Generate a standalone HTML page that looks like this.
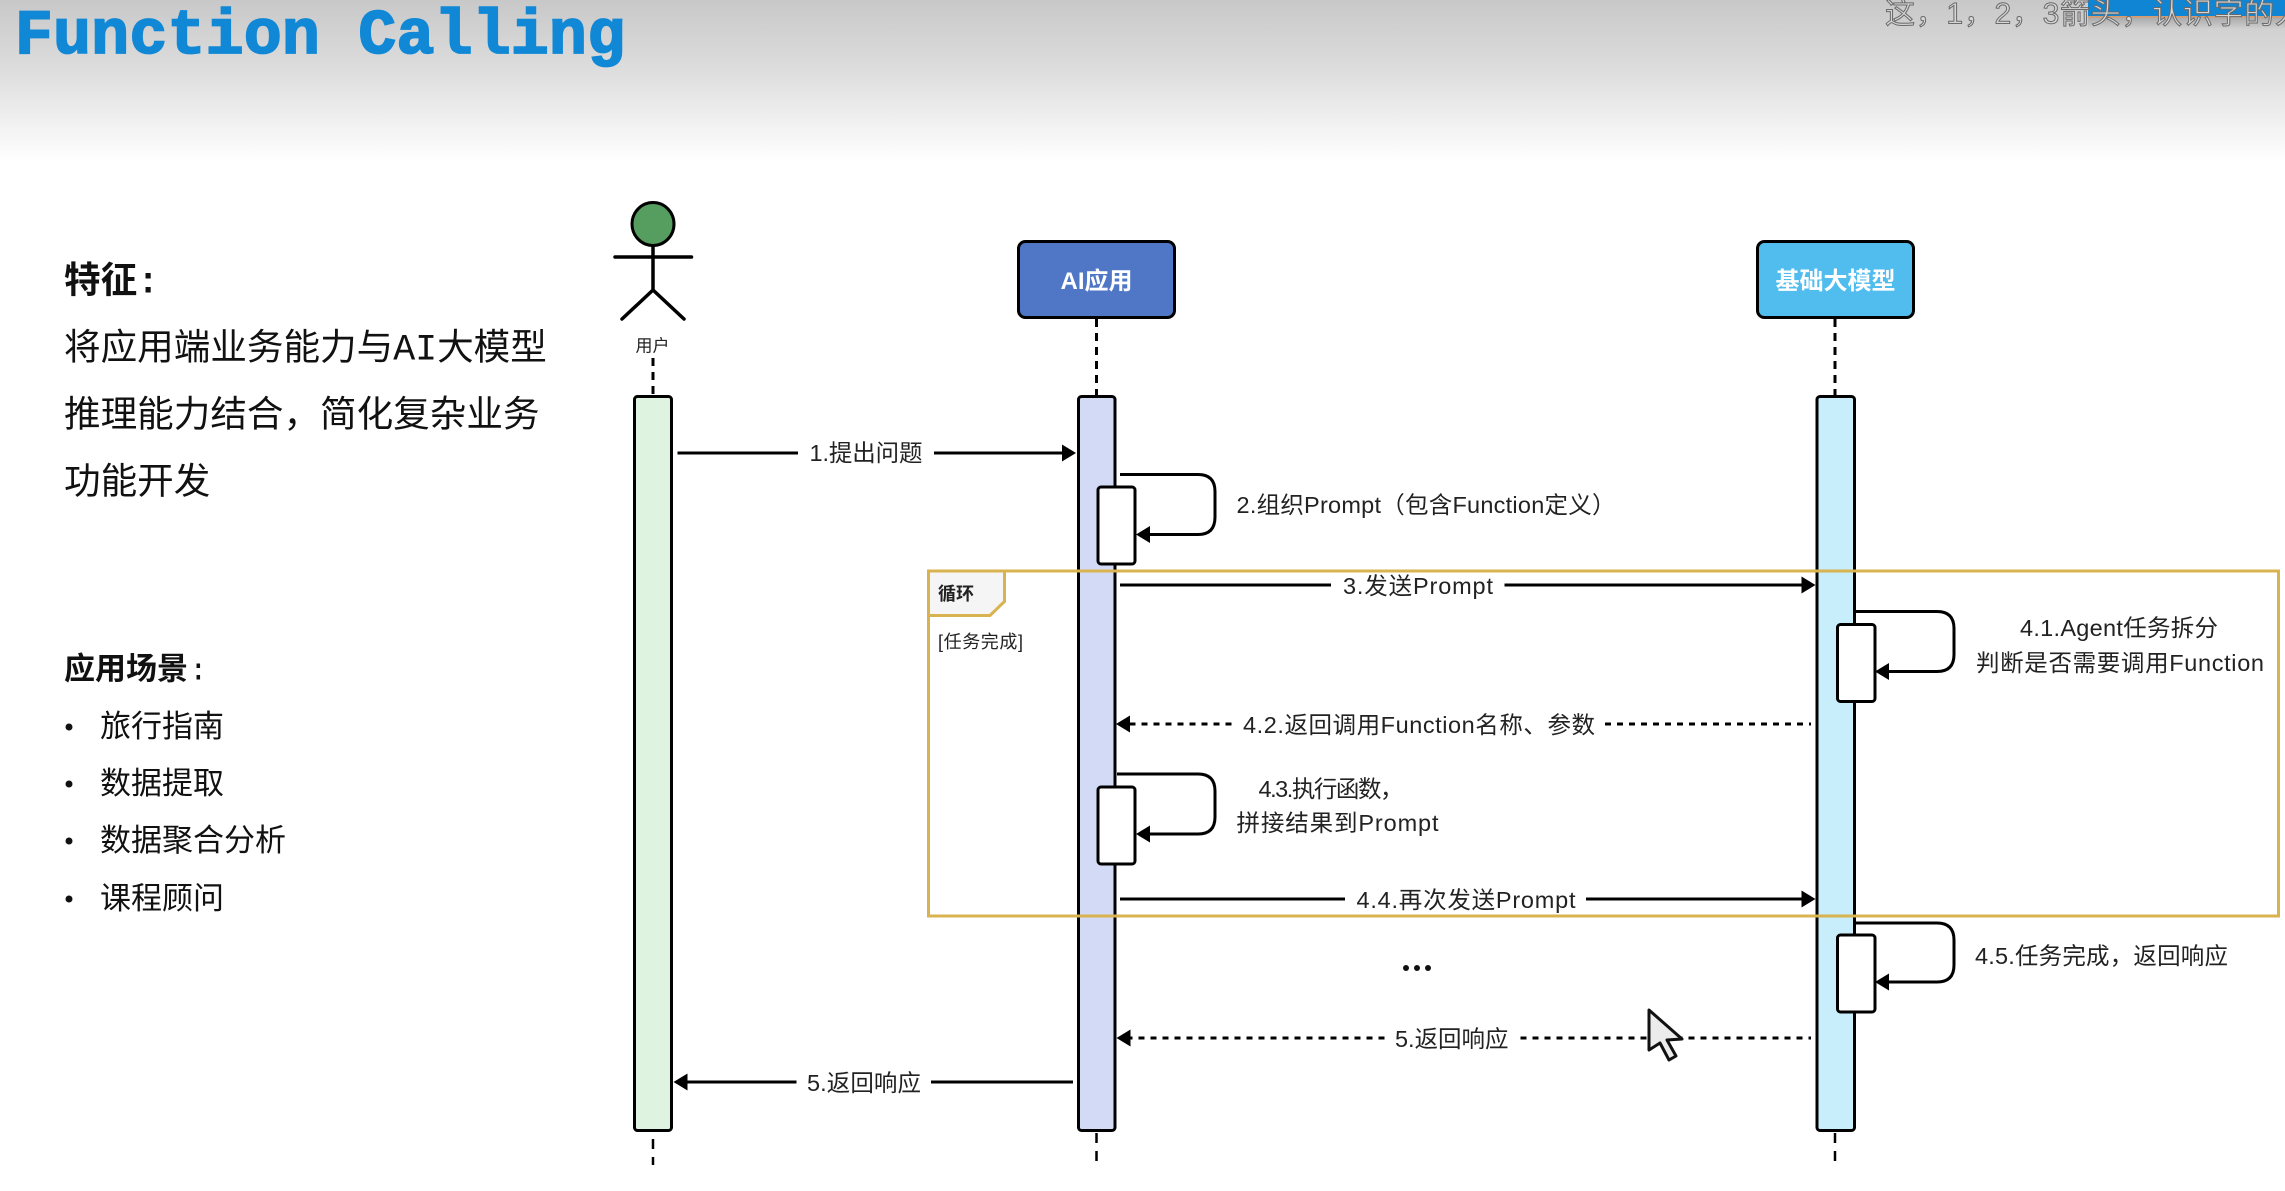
<!DOCTYPE html>
<html><head><meta charset="utf-8">
<style>
html,body{margin:0;padding:0;background:#fff;width:2285px;height:1191px;overflow:hidden}
svg{display:block}
text{font-family:"Liberation Sans","Noto Sans CJK SC",sans-serif;fill:#222;dominant-baseline:central}
.m{font-size:23.500px}
.h{font-family:"Liberation Mono","Noto Sans CJK SC",monospace;font-size:36.600px;fill:#111}
.b{font-family:"Liberation Mono","Noto Sans CJK SC",monospace;font-size:31px;fill:#111}
.l{fill:none;stroke:#000;stroke-width:3}
.d{fill:none;stroke:#000;stroke-width:3;stroke-dasharray:6 6}
.ll{fill:none;stroke:#000;stroke-width:3;stroke-dasharray:8 6}
.bar{stroke:#000;stroke-width:3}
</style></head><body>
<svg width="2285" height="1191" viewBox="0 0 2285 1191" xmlns="http://www.w3.org/2000/svg">
<defs>
<linearGradient id="g" x1="0" y1="0" x2="0" y2="1"><stop offset="0" stop-color="#c8c8c8"/><stop offset="0.45" stop-color="#dedede"/><stop offset="1" stop-color="#ffffff"/></linearGradient>
<linearGradient id="s" x1="0" y1="0" x2="0" y2="1"><stop offset="0" stop-color="#000" stop-opacity=".18"/><stop offset="1" stop-color="#000" stop-opacity="0"/></linearGradient>
</defs>
<rect width="2285" height="1191" fill="#fff"/>
<rect width="2285" height="162" fill="url(#g)"/>
<!-- subtitle overlay -->
<rect x="2088" y="17" width="197" height="12" fill="url(#s)"/>
<rect x="2088" y="0" width="197" height="16" fill="#0f85d3"/>
<rect x="2088" y="16" width="197" height="1.500" fill="#d99a6c"/>
<text x="1885" y="14" style="font-family:'Liberation Sans','Noto Sans CJK SC',sans-serif;font-size:30px;fill:#d6d6d6;stroke:#6a6a6a;stroke-width:1" textLength="420" lengthAdjust="spacing">这，1，2，3箭头，认识字的人</text>
<!-- title -->
<text x="15" y="53" style="font-family:'Liberation Mono',monospace;font-size:63px;font-weight:bold;fill:#1088d6;stroke:#1088d6;stroke-width:1.800;dominant-baseline:alphabetic" textLength="610" lengthAdjust="spacing">Function Calling</text>

<!-- left text -->
<text x="64" y="283" class="h" style="font-weight:bold">特征:</text>
<text x="64" y="350" class="h">将应用端业务能力与AI大模型</text>
<text x="64" y="417" class="h">推理能力结合，简化复杂业务</text>
<text x="64" y="484" class="h">功能开发</text>
<text x="64" y="672" class="b" style="font-weight:bold">应用场景</text>
<text x="189" y="672" class="b">:</text>
<circle cx="69" cy="727" r="3.500" fill="#111"/><text x="100" y="729.500" class="b">旅行指南</text>
<circle cx="69" cy="784" r="3.500" fill="#111"/><text x="100" y="786.500" class="b">数据提取</text>
<circle cx="69" cy="841" r="3.500" fill="#111"/><text x="100" y="843.500" class="b">数据聚合分析</text>
<circle cx="69" cy="899" r="3.500" fill="#111"/><text x="100" y="901.500" class="b">课程顾问</text>

<!-- actor -->
<ellipse cx="653" cy="224" rx="21" ry="21.500" fill="#569d60" stroke="#000" stroke-width="3"/>
<path d="M653 246V290M615 257H691.500M622 319L653 290L684 319" fill="none" stroke="#000" stroke-width="3.500" stroke-linecap="round"/>
<text x="652.500" y="346" text-anchor="middle" style="font-size:17px">用户</text>

<!-- lifelines -->
<path d="M653 358V396" class="ll"/>
<path d="M653 1139V1165" class="ll" style="stroke-width:2.500;stroke-dasharray:10 8"/>
<path d="M1096.500 319V396" class="ll"/>
<path d="M1096.500 1133V1168" class="ll" style="stroke-width:2.500;stroke-dasharray:10 8"/>
<path d="M1835 319V396" class="ll"/>
<path d="M1835 1133V1168" class="ll" style="stroke-width:2.500;stroke-dasharray:10 8"/>

<!-- header boxes -->
<rect x="1018.500" y="241.500" width="156" height="76" rx="7" fill="#4f77c6" stroke="#000" stroke-width="3"/>
<text x="1096.500" y="281.500" text-anchor="middle" style="font-size:24px;font-weight:bold;fill:#fff">AI应用</text>
<rect x="1757.500" y="241.500" width="156" height="76" rx="7" fill="#50bdee" stroke="#000" stroke-width="3"/>
<text x="1835.500" y="281.500" text-anchor="middle" style="font-size:24px;font-weight:bold;fill:#fff">基础大模型</text>

<!-- activation bars -->
<rect x="634.500" y="396.500" width="37" height="734" rx="3" fill="#dff3e1" class="bar"/>
<rect x="1078.500" y="396.500" width="36.500" height="734" rx="3" fill="#d3daf5" class="bar"/>
<rect x="1817" y="396.500" width="37.500" height="734" rx="3" fill="#c8eefb" class="bar"/>

<!-- inner bars -->
<rect x="1098" y="487" width="37" height="77" rx="3" fill="#fff" class="bar"/>
<rect x="1098" y="787" width="37" height="77" rx="3" fill="#fff" class="bar"/>
<rect x="1837.500" y="624.500" width="37.500" height="77" rx="3" fill="#fff" class="bar"/>
<rect x="1837.500" y="935" width="37.500" height="77" rx="3" fill="#fff" class="bar"/>

<!-- loop frame -->
<path d="M928.500 571H1004.500V601.500L990 615.500H928.500Z" fill="#f5f5f5"/>
<rect x="928.500" y="571" width="1350" height="345" fill="none" stroke="#d9b34f" stroke-width="3"/>
<path d="M1004.500 571V601.500L990 615.500H928.500" fill="none" stroke="#d9b34f" stroke-width="3"/>
<text x="956" y="594" text-anchor="middle" style="font-size:18px;font-weight:bold">循环</text>
<text x="938" y="642" style="font-size:18px" textLength="85" lengthAdjust="spacing">[任务完成]</text>

<!-- 1 -->
<path d="M677.500 453H798M934 453H1064" class="l"/>
<polygon points="1076,453 1062,444.500 1062,461.500" fill="#000"/>
<text x="809.500" y="453" class="m" textLength="113" lengthAdjust="spacing">1.提出问题</text>

<!-- 2 self -->
<path d="M1120 474.500H1198Q1215 474.500 1215 491.500V517Q1215 534.500 1198 534.500H1148" class="l"/>
<polygon points="1136,534.500 1150,526 1150,543" fill="#000"/>
<text x="1236.500" y="505" class="m" textLength="379" lengthAdjust="spacing">2.组织Prompt（包含Function定义）</text>

<!-- 3 -->
<path d="M1120 585H1331M1504.500 585H1804" class="l"/>
<polygon points="1815.500,585 1801.500,576.500 1801.500,593.500" fill="#000"/>
<text x="1343" y="586" class="m" textLength="150" lengthAdjust="spacing">3.发送Prompt</text>

<!-- 4.1 self -->
<path d="M1855 611.500H1937Q1954 611.500 1954 628.500V654.500Q1954 671.500 1937 671.500H1886" class="l"/>
<polygon points="1875,671.500 1889,663 1889,680" fill="#000"/>
<text x="2020" y="628" class="m" textLength="198" lengthAdjust="spacing">4.1.Agent任务拆分</text>
<text x="1976" y="663" class="m" textLength="288" lengthAdjust="spacing">判断是否需要调用Function</text>

<!-- 4.2 -->
<path d="M1231.500 724H1127M1605 724H1811" class="d"/>
<polygon points="1116,724 1130,715.500 1130,732.500" fill="#000"/>
<text x="1243" y="725" class="m" textLength="352" lengthAdjust="spacing">4.2.返回调用Function名称、参数</text>

<!-- 4.3 self -->
<path d="M1117 774H1198Q1215 774 1215 791V817Q1215 834 1198 834H1148" class="l"/>
<polygon points="1136,834 1150,825.500 1150,842.500" fill="#000"/>
<text x="1258.500" y="789" class="m" textLength="145" lengthAdjust="spacing">4.3.执行函数，</text>
<text x="1236.500" y="823" class="m" textLength="202" lengthAdjust="spacing">拼接结果到Prompt</text>

<!-- 4.4 -->
<path d="M1120 899H1345M1586 899H1804" class="l"/>
<polygon points="1815.500,899 1801.500,890.500 1801.500,907.500" fill="#000"/>
<text x="1356.500" y="900" class="m" textLength="219" lengthAdjust="spacing">4.4.再次发送Prompt</text>

<!-- 4.5 self -->
<path d="M1855 923H1937Q1954 923 1954 940V965Q1954 982 1937 982H1886" class="l"/>
<polygon points="1875,982 1889,973.500 1889,990.500" fill="#000"/>
<text x="1975" y="956" class="m" textLength="253" lengthAdjust="spacing">4.5.任务完成，返回响应</text>

<!-- dots -->
<circle cx="1406" cy="968" r="3" fill="#111"/><circle cx="1417" cy="968" r="3" fill="#111"/><circle cx="1428" cy="968" r="3" fill="#111"/>

<!-- 5 dashed -->
<path d="M1384.500 1038H1127M1520.500 1038H1811" class="d"/>
<polygon points="1116.500,1038 1130.500,1029.500 1130.500,1046.500" fill="#000"/>
<text x="1395" y="1039" class="m" textLength="113.500" lengthAdjust="spacing">5.返回响应</text>

<!-- 5 solid -->
<path d="M796.500 1082H685M931 1082H1073" class="l"/>
<polygon points="673.500,1082 687.500,1073.500 687.500,1090.500" fill="#000"/>
<text x="807" y="1083" class="m" textLength="114" lengthAdjust="spacing">5.返回响应</text>

<!-- cursor -->
<path d="M1649 1010L1682 1039L1667 1040L1676 1056L1669 1060L1660 1043L1649 1050Z" fill="#ececec" stroke="#111" stroke-width="3" stroke-linejoin="round"/>
</svg>
</body></html>
